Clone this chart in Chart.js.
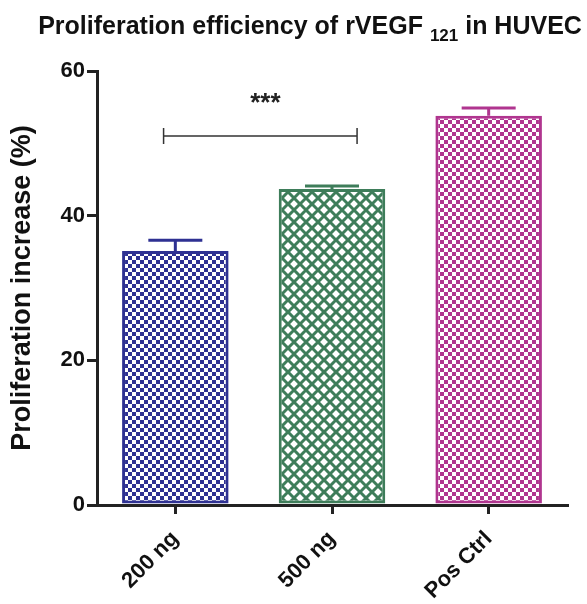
<!DOCTYPE html>
<html>
<head>
<meta charset="utf-8">
<script src="https://cdn.jsdelivr.net/npm/chart.js@4.4.0/dist/chart.umd.min.js"></script>
<style>
  body { margin: 0; background: #fff; }
  #wrap { width: 587px; height: 604px; }
</style>
</head>
<body>
<div id="wrap"><canvas id="myChart" width="587" height="604"></canvas></div>
<script>
// values
const categories = ['200 ng', '500 ng', 'Pos Ctrl'];
const means = [35.1, 43.7, 53.8];
const errors = [1.5, 0.4, 1.1];
const yTicks = [0, 20, 40, 60];
const barColors = ['#2e3192', '#3e7d5a', '#b0358f'];
const patternKinds = ['checker', 'cross', 'checker'];
// significance bracket, in category index / value units
const bracketFrom = -0.075, bracketTo = 1.16, bracketValue = 51, starsAt = 0.575;
const sigLabel = '***';

const FONT = "Arial, 'Liberation Sans', Helvetica, sans-serif";

function makePattern(kind, color) {
    var c = document.createElement('canvas');
    var g = c.getContext('2d');
    if (kind === 'checker') {
        var s = 4;
        c.width = 2 * s; c.height = 2 * s;
        g.fillStyle = '#fff';
        g.fillRect(0, 0, 2 * s, 2 * s);
        g.fillStyle = color;
        g.fillRect(0, 0, s, s);
        g.fillRect(s, s, s, s);
    } else {
        var n = 12;
        c.width = n; c.height = n;
        g.fillStyle = '#fff';
        g.fillRect(0, 0, n, n);
        g.strokeStyle = color;
        g.lineWidth = 3;
        g.beginPath();
        g.moveTo(-1, -1); g.lineTo(n + 1, n + 1);
        g.moveTo(n + 1, -1); g.lineTo(-1, n + 1);
        g.stroke();
    }
    return document.getElementById('myChart').getContext('2d').createPattern(c, 'repeat');
}

const errorBars = {
    id: 'errorBars',
    afterDatasetsDraw(chart) {
        var ctx = chart.ctx;
        var y = chart.scales.y;
        var meta = chart.getDatasetMeta(0);
        ctx.save();
        ctx.lineWidth = 3;
        meta.data.forEach((bar, i) => {
            var top = y.getPixelForValue(means[i] + errors[i]);
            ctx.strokeStyle = barColors[i];
            ctx.beginPath();
            ctx.moveTo(bar.x, bar.y);
            ctx.lineTo(bar.x, top);
            ctx.moveTo(bar.x - 27, top);
            ctx.lineTo(bar.x + 27, top);
            ctx.stroke();
        });
        ctx.restore();
    }
};

const bracketPlugin = {
    id: 'bracket',
    afterDatasetsDraw(chart) {
        var ctx = chart.ctx;
        var x = chart.scales.x, y = chart.scales.y;
        var x1 = x.getPixelForValue(bracketFrom), x2 = x.getPixelForValue(bracketTo);
        var yy = y.getPixelForValue(bracketValue);
        ctx.save();
        ctx.strokeStyle = '#333';
        ctx.lineWidth = 1.5;
        ctx.beginPath();
        ctx.moveTo(x1, yy); ctx.lineTo(x2, yy);
        ctx.moveTo(x1, yy - 8); ctx.lineTo(x1, yy + 8);
        ctx.moveTo(x2, yy - 8); ctx.lineTo(x2, yy + 8);
        ctx.stroke();
        ctx.fillStyle = '#222';
        ctx.font = 'bold 26px ' + FONT;
        ctx.textAlign = 'center';
        ctx.textBaseline = 'middle';
        ctx.fillText(sigLabel, x.getPixelForValue(starsAt), yy - 32);
        ctx.restore();
    }
};

const titlePlugin = {
    id: 'subTitle',
    afterDraw(chart) {
        var ctx = chart.ctx;
        var a = 'Proliferation efficiency of rVEGF ', b = '121', c = ' in HUVEC';
        ctx.save();
        ctx.fillStyle = '#111';
        ctx.textBaseline = 'alphabetic';
        ctx.font = 'bold 25px ' + FONT;
        var wa = ctx.measureText(a).width, wc = ctx.measureText(c).width;
        ctx.font = 'bold 17px ' + FONT;
        var wb = ctx.measureText(b).width;
        var x = 310 - (wa + wb + wc) / 2;
        ctx.font = 'bold 25px ' + FONT;
        ctx.fillText(a, x, 34);
        ctx.font = 'bold 17px ' + FONT;
        ctx.fillText(b, x + wa, 41);
        ctx.font = 'bold 25px ' + FONT;
        ctx.fillText(c, x + wa + wb, 34);
        ctx.restore();
    }
};

const ctx = document.getElementById('myChart').getContext('2d');
const myChartObj = new Chart(ctx, {
    type: 'bar',
    data: {
        labels: categories,
        datasets: [{
            data: means,
            backgroundColor: barColors.map((col, i) => makePattern(patternKinds[i], col)),
            borderColor: barColors,
            borderWidth: 3,
            borderSkipped: false,
            barPercentage: 0.68,
            categoryPercentage: 1
        }]
    },
    options: {
        responsive: false,
        animation: false,
        layout: { padding: { top: 71, right: 20, left: 0, bottom: 0 } },
        plugins: { legend: { display: false }, tooltip: { enabled: false }, title: { display: false } },
        scales: {
            x: {
                afterFit(scale) { scale.height = 99; },
                grid: { offset: false, drawOnChartArea: false, drawTicks: true, tickLength: 9, lineWidth: 3, color: '#222' },
                border: { display: true, width: 3, color: '#222' },
                ticks: {
                    maxRotation: 45, minRotation: 45, padding: 12,
                    color: '#111', font: { family: FONT, size: 22, weight: 'bold' }
                }
            },
            y: {
                min: 0, max: 60,
                afterFit(scale) { scale.width = 97; },
                afterBuildTicks(scale) { scale.ticks = yTicks.map(v => ({ value: v })); },
                grid: { drawOnChartArea: false, drawTicks: true, tickLength: 10, lineWidth: 3, color: '#222' },
                border: { display: true, width: 3, color: '#222' },
                ticks: { padding: 2, color: '#111', font: { family: FONT, size: 22, weight: 'bold' } },
                title: {
                    display: true, text: 'Proliferation increase (%)', color: '#111',
                    font: { family: FONT, size: 27, weight: 'bold' }, padding: { top: 6, bottom: 4 }
                }
            }
        }
    },
    plugins: [errorBars, bracketPlugin, titlePlugin]
});
</script>
</body>
</html>
